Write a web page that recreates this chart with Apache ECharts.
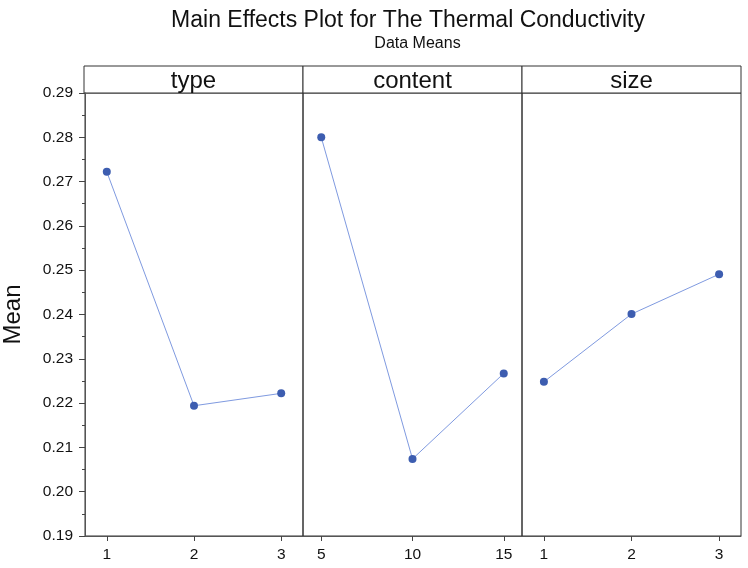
<!DOCTYPE html>
<html>
<head>
<meta charset="utf-8">
<script src="https://cdn.jsdelivr.net/npm/echarts@6/dist/echarts.min.js"></script>
<style>
  html, body { margin: 0; padding: 0; background: #fff; }
  #chart { width: 748px; height: 568px; }
</style>
</head>
<body>
<div id="chart"></div>
<script>
// factor levels and the mean response at each level
const factors = ["type", "content", "size"];
const typeLevels = [1, 2, 3];
const typeMeans = [0.2722, 0.2194, 0.2222];
const contentLevels = [5, 10, 15];
const contentMeans = [0.2800, 0.2074, 0.2267];
const sizeLevels = [1, 2, 3];
const sizeMeans = [0.2248, 0.2401, 0.2491];
const yTicks = [0.19, 0.20, 0.21, 0.22, 0.23, 0.24, 0.25, 0.26, 0.27, 0.28, 0.29];

const levels = [typeLevels, contentLevels, sizeLevels];
const means = [typeMeans, contentMeans, sizeMeans];
const xRanges = [[0.75, 3.25], [4, 16], [0.75, 3.25]];

const chart = echarts.init(document.getElementById("chart"));

const FONT = "Liberation Sans, Arial, sans-serif";
const plotLeft = 84, plotRight = 741, plotTop = 93, plotBottom = 536, headerTop = 66;
const panelW = (plotRight - plotLeft) / 3;

const grids = [], xAxes = [], yAxes = [], series = [], graphics = [];

factors.forEach((name, i) => {
  const left = plotLeft + panelW * i;
  grids.push({
    left: left,
    width: panelW,
    top: plotTop,
    height: plotBottom - plotTop,
    show: true,
    borderColor: "#333",
    borderWidth: 1,
    backgroundColor: "transparent"
  });
  xAxes.push({
    type: "value",
    gridIndex: i,
    min: xRanges[i][0],
    max: xRanges[i][1],
    axisLine: { show: true, onZero: false, lineStyle: { color: "#555", width: 1 } },
    axisTick: { show: true, length: 5, customValues: levels[i], lineStyle: { color: "#444" } },
    axisLabel: {
      customValues: levels[i],
      color: "#111",
      fontSize: 15.5,
      fontFamily: FONT,
      margin: 11
    },
    splitLine: { show: false }
  });
  yAxes.push({
    type: "value",
    gridIndex: i,
    min: 0.19,
    max: 0.29,
    interval: 0.01,
    show: i === 0,
    name: i === 0 ? "Mean" : "",
    nameLocation: "middle",
    nameRotate: 90,
    nameGap: 60,
    nameTextStyle: { fontSize: 24, fontFamily: FONT, color: "#111" },
    axisLine: { show: true, lineStyle: { color: "#555" } },
    axisTick: { show: true, length: 6, lineStyle: { color: "#444" } },
    minorTick: { show: true, splitNumber: 2, length: 3, lineStyle: { color: "#444" } },
    axisLabel: {
      color: "#111",
      fontSize: 15.5,
      fontFamily: FONT,
      margin: 12,
      formatter: v => {
        const t = yTicks.find(k => Math.abs(k - v) < 1e-6);
        return t !== undefined ? t.toFixed(2) : "";
      }
    },
    splitLine: { show: false }
  });
  series.push({
    type: "line",
    name: name,
    xAxisIndex: i,
    yAxisIndex: i,
    data: levels[i].map((x, k) => [x, means[i][k]]),
    symbol: "circle",
    symbolSize: 8,
    lineStyle: { color: "#7f9ae0", width: 1 },
    itemStyle: { color: "#3d5db0" },
    emphasis: { disabled: true },
    animation: false
  });
  // panel header strip
  graphics.push({
    type: "rect",
    shape: { x: left, y: headerTop, width: panelW, height: plotTop - headerTop },
    style: { fill: "#fff", stroke: "#333", lineWidth: 1 }
  });
  graphics.push({
    type: "text",
    x: left + panelW / 2,
    y: (headerTop + plotTop) / 2 + 2,
    style: {
      text: name,
      fontSize: 24,
      fontFamily: FONT,
      fill: "#111",
      align: "center",
      verticalAlign: "middle"
    }
  });
});

const option = {
  backgroundColor: "#fff",
  title: [
    {
      text: "Main Effects Plot for The Thermal Conductivity",
      left: 403,
      textAlign: "center",
      top: 4,
      textStyle: { fontSize: 23, fontWeight: "normal", fontFamily: FONT, color: "#111" }
    },
    {
      text: "Data Means",
      left: (plotLeft + plotRight) / 2,
      textAlign: "center",
      top: 31,
      textStyle: { fontSize: 16, fontWeight: "normal", fontFamily: FONT, color: "#111" }
    }
  ],
  grid: grids,
  xAxis: xAxes,
  yAxis: yAxes,
  series: series,
  graphic: graphics,
  animation: false
};

chart.setOption(option);
</script>
</body>
</html>
